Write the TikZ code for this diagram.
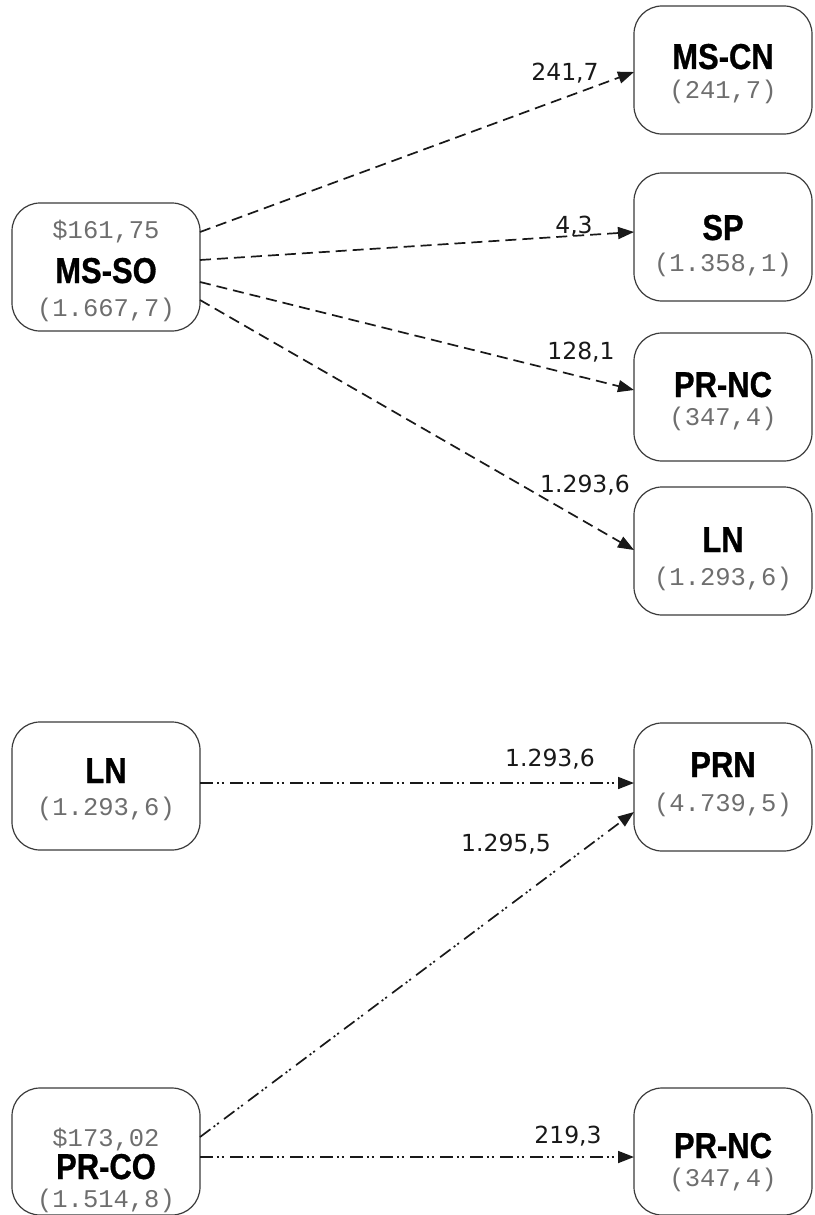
\documentclass[tikz,border=0pt]{standalone}
\usepackage{fontspec}
\setmainfont{DejaVu Sans}
\newfontfamily\titlef{Liberation Sans}[FakeStretch=0.86,BoldFeatures={FakeBold=0.8}]
\newfontfamily\monof{Liberation Mono}
\usetikzlibrary{arrows.meta,calc}
\definecolor{boxc}{HTML}{3A3A3A}
\definecolor{gtext}{HTML}{6E6E6E}
\tikzset{
  box/.style={draw=boxc, line width=1.2pt, rounded corners=28pt, minimum height=128pt, inner sep=0pt, outer sep=0pt},
  lbox/.style={box, minimum width=188pt},
  rbox/.style={box, minimum width=178pt},
  ttl/.style={anchor=base, inner sep=0pt, font=\titlef\bfseries\fontsize{36}{36}\selectfont},
  cnt/.style={anchor=base, inner sep=0pt, text=gtext, font=\monof\fontsize{25.5}{25.5}\selectfont},
  lbl/.style={inner sep=0pt, text=black!90, font=\fontsize{23.5}{23.5}\selectfont},
  tip/.style={-{Triangle[length=16pt,width=12pt]}},
  dasharrow/.style={tip, line width=1.7pt, draw=black!90, dash pattern=on 11pt off 6pt},
  dotarrow/.style={tip, line width=1.7pt, draw=black!90, dash pattern=on 13pt off 4pt on 2pt off 2.5pt on 2pt off 6.5pt},
}
\begin{document}
\begin{tikzpicture}[x=1pt,y=-1pt]
\useasboundingbox (0,0) rectangle (814,1215);

% ---------- upper part ----------
\node[lbox] (msso) at (106,267) {};
\node[cnt] (msso-p) at (106,238) {\$161,75};
\node[ttl] (msso-t) at (106,283) {MS-SO};
\node[cnt] (msso-c) at (106,316) {(1.667,7)};

\node[rbox] (mscn) at (723,70) {};
\node[ttl] (mscn-t) at (723,69) {MS-CN};
\node[cnt] (mscn-c) at (723,99) {(241,7)};

\node[rbox] (sp) at (723,237) {};
\node[ttl] (sp-t) at (723,240) {SP};
\node[cnt] (sp-c) at (723,271) {(1.358,1)};

\node[rbox] (prnc) at (723,397) {};
\node[ttl] (prnc-t) at (723,397) {PR-NC};
\node[cnt] (prnc-c) at (723,425) {(347,4)};

\node[rbox] (ln) at (723,551) {};
\node[ttl] (ln-t) at (723,552) {LN};
\node[cnt] (ln-c) at (723,585) {(1.293,6)};

\draw[dasharrow] ($(msso.east)+(0,-35)$) -- ($(mscn.west)+(0,2)$);
\draw[dasharrow] ($(msso.east)+(0,-7)$) -- ($(sp.west)+(0,-5)$);
\draw[dasharrow] ($(msso.east)+(0,15)$) -- ($(prnc.west)+(0,-7)$);
\draw[dasharrow] ($(msso.east)+(0,33)$) -- ($(ln.west)+(0,-1)$);

\node[lbl] (l1) at (565,73) {241,7};
\node[lbl] (l2) at (574,226) {4,3};
\node[lbl] (l3) at (581,352) {128,1};
\node[lbl] (l4) at (585,485) {1.293,6};

% ---------- lower part ----------
\node[lbox] (lnl) at (106,786) {};
\node[ttl] (lnl-t) at (106,783) {LN};
\node[cnt] (lnl-c) at (106,815) {(1.293,6)};

\node[rbox] (prn) at (723,787) {};
\node[ttl] (prn-t) at (723,777) {PRN};
\node[cnt] (prn-c) at (723,811) {(4.739,5)};

\node[lbox, minimum height=127pt] (prco) at (106,1151.5) {};
\node[cnt] (prco-p) at (106,1146) {\$173,02};
\node[ttl] (prco-t) at (106,1179) {PR-CO};
\node[cnt] (prco-c) at (106,1207) {(1.514,8)};

\node[rbox, minimum height=127pt] (prnc2) at (723,1151.5) {};
\node[ttl] (prnc2-t) at (723,1158) {PR-NC};
\node[cnt] (prnc2-c) at (723,1186) {(347,4)};

\draw[dotarrow] ($(lnl.east)+(0,-3)$) -- ($(prn.west)+(0,-4)$);
\draw[dotarrow] ($(prco.east)+(0,-14.5)$) -- ($(prn.west)+(0,25)$);
\draw[dotarrow] ($(prco.east)+(0,5.5)$) -- ($(prnc2.west)+(0,5.5)$);

\node[lbl] (l5) at (550,759) {1.293,6};
\node[lbl] (l6) at (506,844) {1.295,5};
\node[lbl] (l7) at (568,1136) {219,3};
\end{tikzpicture}
\end{document}
